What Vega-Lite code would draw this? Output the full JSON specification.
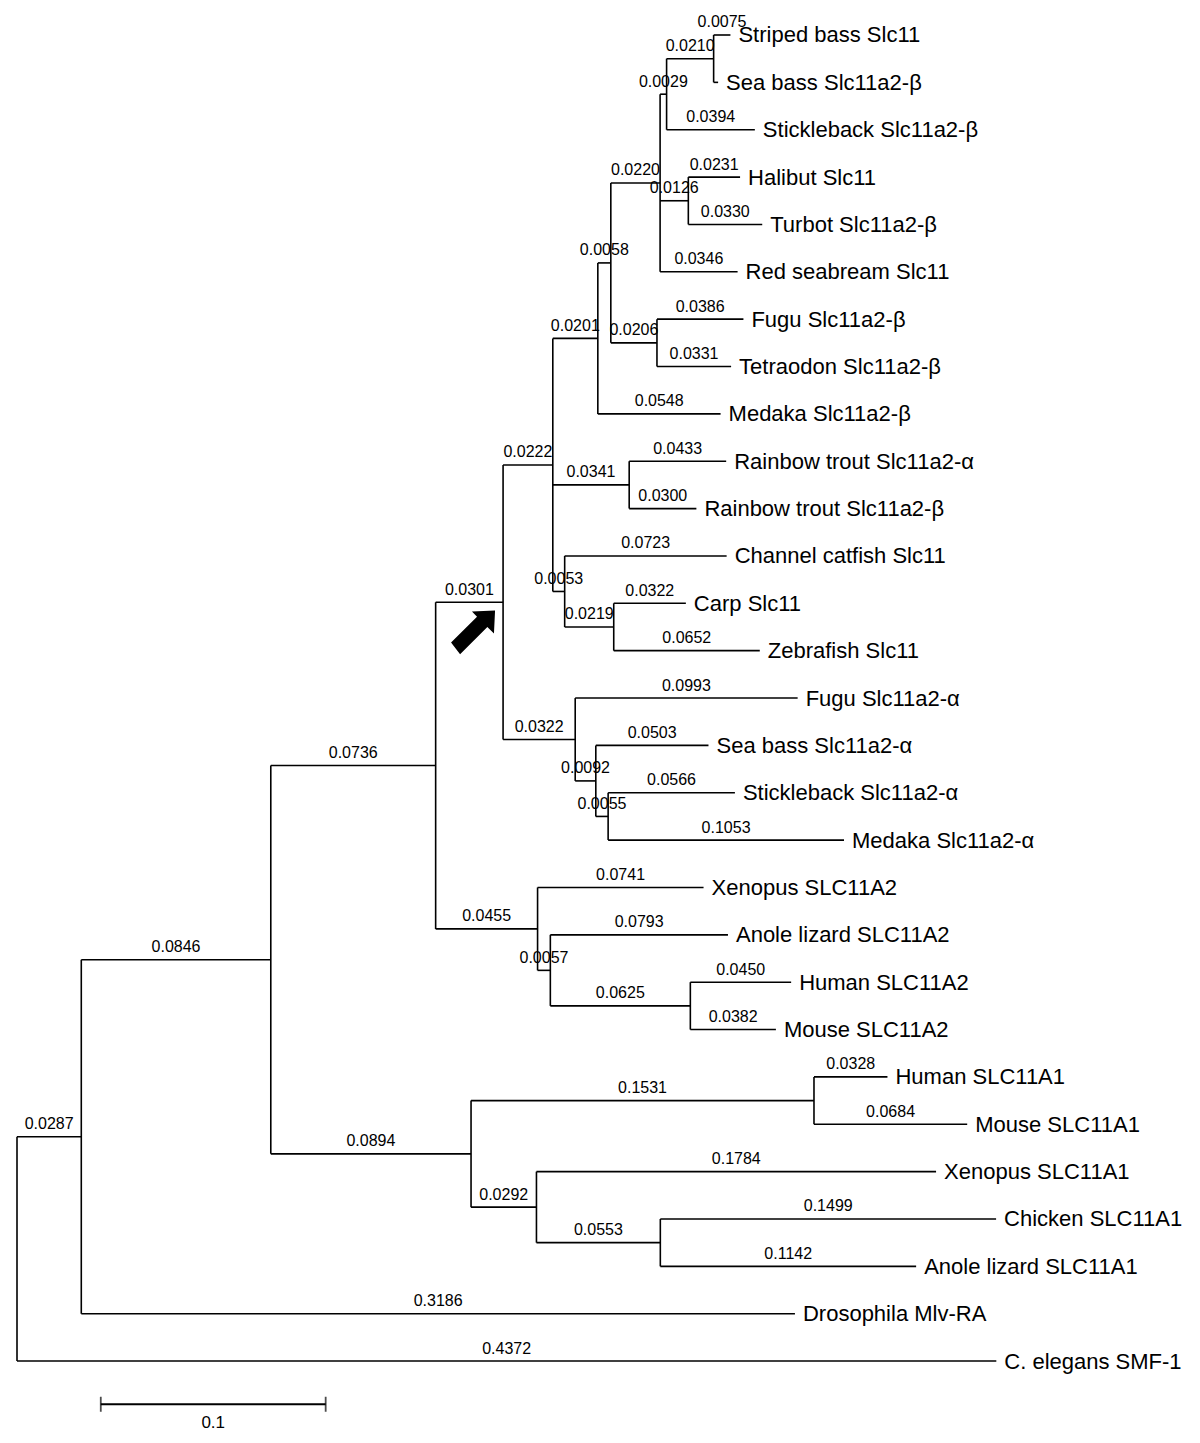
{
  "$schema": "https://vega.github.io/schema/vega-lite/v6.json",
  "width": 1200,
  "height": 1443,
  "autosize": {"type": "none"},
  "padding": 0,
  "background": "white",
  "view": {"stroke": null},
  "datasets": {
    "branches": [
      {"p": "root", "px": 0, "x": 0.0287, "y": 23.2627, "len": 0.0287, "label": null},
      {"p": "root", "px": 0, "x": 0.4372, "y": 28, "len": 0.4372, "label": "C. elegans SMF-1"},
      {"p": "A", "px": 0.0287, "x": 0.1133, "y": 19.5254, "len": 0.0846, "label": null},
      {"p": "A", "px": 0.0287, "x": 0.3473, "y": 27, "len": 0.3186, "label": "Drosophila Mlv-RA"},
      {"p": "B", "px": 0.1133, "x": 0.1869, "y": 15.4258, "len": 0.0736, "label": null},
      {"p": "B", "px": 0.1133, "x": 0.2027, "y": 23.625, "len": 0.0894, "label": null},
      {"p": "C", "px": 0.1869, "x": 0.2170, "y": 11.9766, "len": 0.0301, "label": null},
      {"p": "C", "px": 0.1869, "x": 0.2324, "y": 18.875, "len": 0.0455, "label": null},
      {"p": "E", "px": 0.2170, "x": 0.2392, "y": 9.0781, "len": 0.0222, "label": null},
      {"p": "E", "px": 0.2170, "x": 0.2492, "y": 14.875, "len": 0.0322, "label": null},
      {"p": "G", "px": 0.2392, "x": 0.2593, "y": 6.4063, "len": 0.0201, "label": null},
      {"p": "G", "px": 0.2392, "x": 0.2733, "y": 9.5, "len": 0.0341, "label": null},
      {"p": "G", "px": 0.2392, "x": 0.2445, "y": 11.75, "len": 0.0053, "label": null},
      {"p": "I", "px": 0.2593, "x": 0.2651, "y": 4.8125, "len": 0.0058, "label": null},
      {"p": "I", "px": 0.2593, "x": 0.3141, "y": 8, "len": 0.0548, "label": "Medaka Slc11a2-β"},
      {"p": "L", "px": 0.2651, "x": 0.2871, "y": 3.125, "len": 0.0220, "label": null},
      {"p": "L", "px": 0.2651, "x": 0.2857, "y": 6.5, "len": 0.0206, "label": null},
      {"p": "M", "px": 0.2871, "x": 0.2900, "y": 1.25, "len": 0.0029, "label": null},
      {"p": "M", "px": 0.2871, "x": 0.2997, "y": 3.5, "len": 0.0126, "label": null},
      {"p": "M", "px": 0.2871, "x": 0.3217, "y": 5, "len": 0.0346, "label": "Red seabream Slc11"},
      {"p": "O", "px": 0.2900, "x": 0.3110, "y": 0.5, "len": 0.0210, "label": null},
      {"p": "O", "px": 0.2900, "x": 0.3294, "y": 2, "len": 0.0394, "label": "Stickleback Slc11a2-β"},
      {"p": "Q", "px": 0.3110, "x": 0.3185, "y": 0, "len": 0.0075, "label": "Striped bass Slc11"},
      {"p": "Q", "px": 0.3110, "x": 0.3130, "y": 1, "len": null, "label": "Sea bass Slc11a2-β"},
      {"p": "P", "px": 0.2997, "x": 0.3228, "y": 3, "len": 0.0231, "label": "Halibut Slc11"},
      {"p": "P", "px": 0.2997, "x": 0.3327, "y": 4, "len": 0.0330, "label": "Turbot Slc11a2-β"},
      {"p": "N", "px": 0.2857, "x": 0.3243, "y": 6, "len": 0.0386, "label": "Fugu Slc11a2-β"},
      {"p": "N", "px": 0.2857, "x": 0.3188, "y": 7, "len": 0.0331, "label": "Tetraodon Slc11a2-β"},
      {"p": "K", "px": 0.2733, "x": 0.3166, "y": 9, "len": 0.0433, "label": "Rainbow trout Slc11a2-α"},
      {"p": "K", "px": 0.2733, "x": 0.3033, "y": 10, "len": 0.0300, "label": "Rainbow trout Slc11a2-β"},
      {"p": "J", "px": 0.2445, "x": 0.3168, "y": 11, "len": 0.0723, "label": "Channel catfish Slc11"},
      {"p": "J", "px": 0.2445, "x": 0.2664, "y": 12.5, "len": 0.0219, "label": null},
      {"p": "R", "px": 0.2664, "x": 0.2986, "y": 12, "len": 0.0322, "label": "Carp Slc11"},
      {"p": "R", "px": 0.2664, "x": 0.3316, "y": 13, "len": 0.0652, "label": "Zebrafish Slc11"},
      {"p": "H", "px": 0.2492, "x": 0.3485, "y": 14, "len": 0.0993, "label": "Fugu Slc11a2-α"},
      {"p": "H", "px": 0.2492, "x": 0.2584, "y": 15.75, "len": 0.0092, "label": null},
      {"p": "S", "px": 0.2584, "x": 0.3087, "y": 15, "len": 0.0503, "label": "Sea bass Slc11a2-α"},
      {"p": "S", "px": 0.2584, "x": 0.2639, "y": 16.5, "len": 0.0055, "label": null},
      {"p": "T", "px": 0.2639, "x": 0.3205, "y": 16, "len": 0.0566, "label": "Stickleback Slc11a2-α"},
      {"p": "T", "px": 0.2639, "x": 0.3692, "y": 17, "len": 0.1053, "label": "Medaka Slc11a2-α"},
      {"p": "F", "px": 0.2324, "x": 0.3065, "y": 18, "len": 0.0741, "label": "Xenopus SLC11A2"},
      {"p": "F", "px": 0.2324, "x": 0.2381, "y": 19.75, "len": 0.0057, "label": null},
      {"p": "U", "px": 0.2381, "x": 0.3174, "y": 19, "len": 0.0793, "label": "Anole lizard SLC11A2"},
      {"p": "U", "px": 0.2381, "x": 0.3006, "y": 20.5, "len": 0.0625, "label": null},
      {"p": "V", "px": 0.3006, "x": 0.3456, "y": 20, "len": 0.0450, "label": "Human SLC11A2"},
      {"p": "V", "px": 0.3006, "x": 0.3388, "y": 21, "len": 0.0382, "label": "Mouse SLC11A2"},
      {"p": "D", "px": 0.2027, "x": 0.3558, "y": 22.5, "len": 0.1531, "label": null},
      {"p": "D", "px": 0.2027, "x": 0.2319, "y": 24.75, "len": 0.0292, "label": null},
      {"p": "W", "px": 0.3558, "x": 0.3886, "y": 22, "len": 0.0328, "label": "Human SLC11A1"},
      {"p": "W", "px": 0.3558, "x": 0.4242, "y": 23, "len": 0.0684, "label": "Mouse SLC11A1"},
      {"p": "X", "px": 0.2319, "x": 0.4103, "y": 24, "len": 0.1784, "label": "Xenopus SLC11A1"},
      {"p": "X", "px": 0.2319, "x": 0.2872, "y": 25.5, "len": 0.0553, "label": null},
      {"p": "Y", "px": 0.2872, "x": 0.4371, "y": 25, "len": 0.1499, "label": "Chicken SLC11A1"},
      {"p": "Y", "px": 0.2872, "x": 0.4014, "y": 26, "len": 0.1142, "label": "Anole lizard SLC11A1"}
    ],
    "scalebar": [
      {"x": 0.0374, "x2": 0.1378, "y": 28.912, "text": "0.1"}
    ],
    "arrow": [
      {"x": 0.2036, "y": 12.616}
    ]
  },
  "layer": [
    {
      "data": {"name": "branches"},
      "mark": {"type": "rule", "color": "black", "strokeWidth": 1.6},
      "encoding": {
        "x": {"field": "px", "type": "quantitative", "scale": {"domain": [-0.00759, 0.52813], "nice": false, "zero": false}, "axis": null},
        "x2": {"field": "x"},
        "y": {"field": "y", "type": "quantitative", "scale": {"domain": [-0.739, 29.730], "nice": false, "zero": false, "reverse": true}, "axis": null}
      }
    },
    {
      "data": {"name": "branches"},
      "transform": [
        {"aggregate": [{"op": "min", "field": "y", "as": "ymin"}, {"op": "max", "field": "y", "as": "ymax"}], "groupby": ["p", "px"]}
      ],
      "mark": {"type": "rule", "color": "black", "strokeWidth": 1.6},
      "encoding": {
        "x": {"field": "px", "type": "quantitative", "axis": null},
        "y": {"field": "ymin", "type": "quantitative", "axis": null},
        "y2": {"field": "ymax"}
      }
    },
    {
      "data": {"name": "branches"},
      "transform": [
        {"filter": "datum.len != null"},
        {"calculate": "(datum.px + datum.x) / 2", "as": "mid"}
      ],
      "mark": {"type": "text", "font": "Liberation Sans", "fontSize": 16, "align": "center", "baseline": "alphabetic", "dy": -7.5, "color": "black"},
      "encoding": {
        "x": {"field": "mid", "type": "quantitative", "axis": null},
        "y": {"field": "y", "type": "quantitative", "axis": null},
        "text": {"field": "len", "type": "quantitative", "format": ".4f"}
      }
    },
    {
      "data": {"name": "branches"},
      "transform": [{"filter": "datum.label != null"}],
      "mark": {"type": "text", "font": "Liberation Sans", "fontSize": 22, "align": "left", "baseline": "alphabetic", "dx": 8, "dy": 7.5, "color": "black"},
      "encoding": {
        "x": {"field": "x", "type": "quantitative", "axis": null},
        "y": {"field": "y", "type": "quantitative", "axis": null},
        "text": {"field": "label", "type": "nominal"}
      }
    },
    {
      "data": {"name": "scalebar"},
      "mark": {"type": "rule", "color": "black", "strokeWidth": 1.8},
      "encoding": {
        "x": {"field": "x", "type": "quantitative", "axis": null},
        "x2": {"field": "x2"},
        "y": {"field": "y", "type": "quantitative", "axis": null}
      }
    },
    {
      "data": {"name": "scalebar"},
      "mark": {"type": "tick", "color": "black", "orient": "vertical", "size": 15, "thickness": 1.8},
      "encoding": {
        "x": {"field": "x", "type": "quantitative", "axis": null},
        "y": {"field": "y", "type": "quantitative", "axis": null}
      }
    },
    {
      "data": {"name": "scalebar"},
      "mark": {"type": "tick", "color": "black", "orient": "vertical", "size": 15, "thickness": 1.8},
      "encoding": {
        "x": {"field": "x2", "type": "quantitative", "axis": null},
        "y": {"field": "y", "type": "quantitative", "axis": null}
      }
    },
    {
      "data": {"name": "scalebar"},
      "transform": [{"calculate": "(datum.x + datum.x2) / 2", "as": "mid"}],
      "mark": {"type": "text", "font": "Liberation Sans", "fontSize": 17, "align": "center", "baseline": "alphabetic", "dy": 24, "color": "black"},
      "encoding": {
        "x": {"field": "mid", "type": "quantitative", "axis": null},
        "y": {"field": "y", "type": "quantitative", "axis": null},
        "text": {"field": "text", "type": "nominal"}
      }
    },
    {
      "data": {"name": "arrow"},
      "mark": {"type": "point", "filled": true, "color": "black", "opacity": 1, "strokeWidth": 0, "size": 1936, "shape": "M 1 -1 L -0.05 -0.95 L 0.18 -0.72 L -1 0.46 L -0.59 0.99 L 0.65 -0.25 L 0.95 0.05 Z"},
      "encoding": {
        "x": {"field": "x", "type": "quantitative", "axis": null},
        "y": {"field": "y", "type": "quantitative", "axis": null}
      }
    }
  ]
}
